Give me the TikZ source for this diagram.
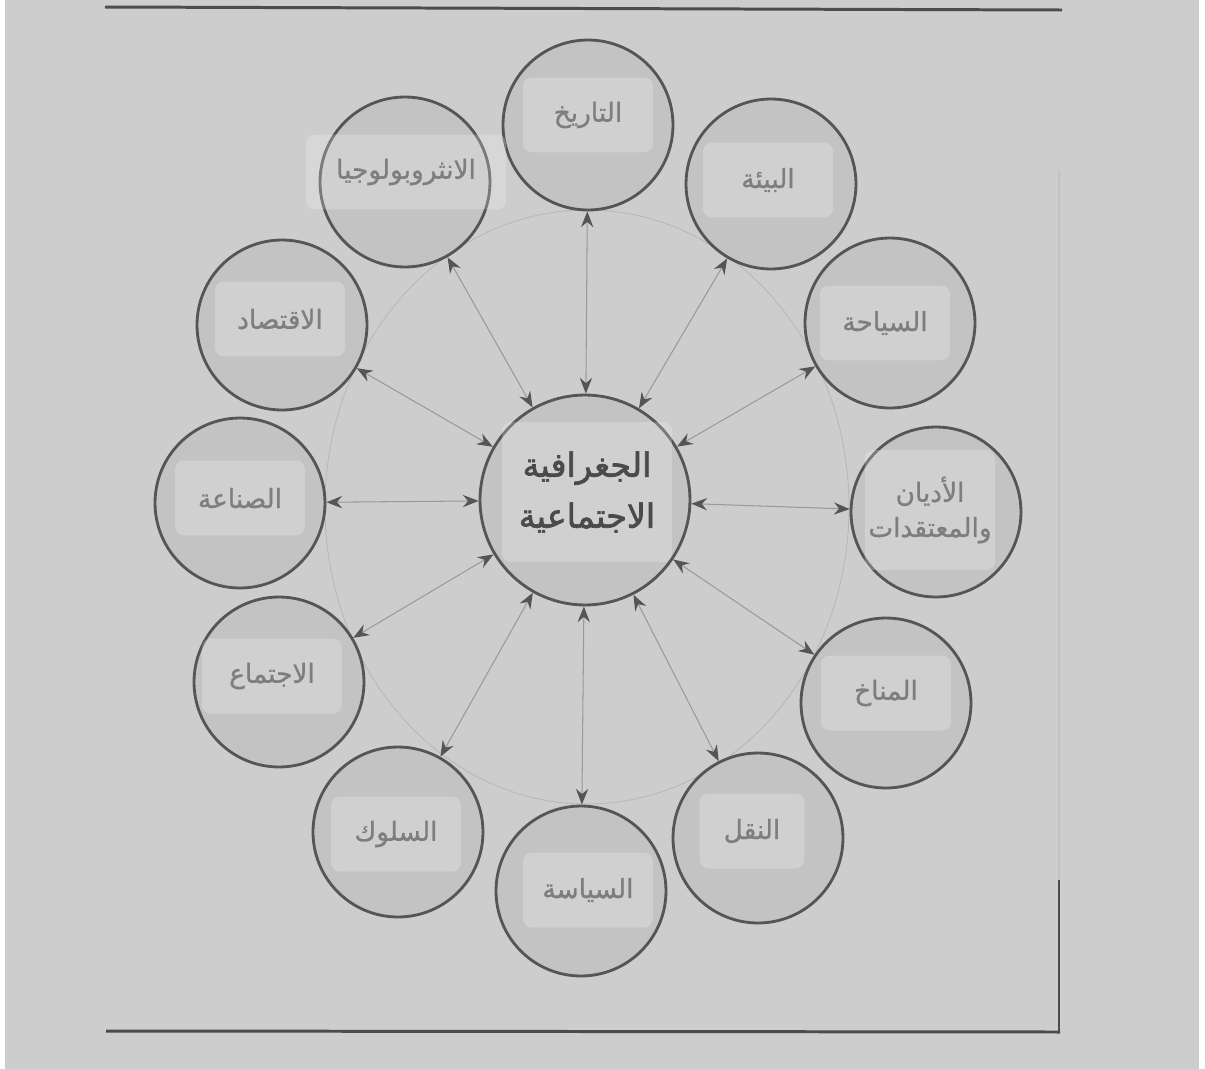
\documentclass[tikz,border=0pt]{standalone}
\usepackage{fontspec}
\usetikzlibrary{arrows.meta}
\TeXXeTstate=1
\newfontfamily\arabicfont[Script=Arabic,FakeBold=1]{DejaVu Sans}
\newfontfamily\arabicbold[Script=Arabic,FakeBold=2]{DejaVu Sans}
\definecolor{paper}{HTML}{CDCDCD}
\definecolor{disc}{HTML}{C3C3C3}
\definecolor{rim}{HTML}{555555}
\definecolor{ink}{HTML}{7E7E7E}
\definecolor{hubink}{HTML}{4A4A4A}
\definecolor{wire}{HTML}{9A9A9A}
\definecolor{rule}{HTML}{4C4C4C}

\tikzset{
  >={Stealth[length=9pt,width=7pt,inset=3pt,color=rim]},
  topic/.style={circle,draw=rim,line width=1.6pt,fill=disc,minimum size=3.4cm,inner sep=0pt},
  hub/.style={topic,minimum size=4.2cm},
  tag/.style={rounded corners=5pt,fill=white,fill opacity=0.22,text opacity=1,text=ink,
    minimum width=2.6cm,minimum height=1.5cm,inner sep=2pt,align=center,
    font=\arabicfont\fontsize{15}{20}\selectfont},
  hubtag/.style={tag,text=hubink,minimum width=3.4cm,minimum height=2.8cm,
    font=\arabicbold\fontsize{19}{29}\selectfont},
  link/.style={<->,draw=wire,line width=0.6pt}
}

\begin{document}
\begin{tikzpicture}[x=0.02cm,y=-0.02cm]
    \useasboundingbox (0,0) rectangle (1205,1069);
    \fill[white] (0,0) rectangle (1205,1069);
    \fill[paper] (5,0) rectangle (1199,1069);
    \draw[rule,line width=1.7pt] (105,7) -- (1062,10);
    \draw[rule,line width=1.7pt] (106,1031) -- (1060,1032);
    \draw[wire!60,line width=0.6pt] (1059,170) -- (1059,880);
    \draw[rule,line width=0.9pt] (1059,880) -- (1059,1033);
    \draw[wire!70,line width=0.5pt] (587,507) ellipse [x radius=262,y radius=297];

    \node[hub] (hub) at (585,500) {};
    \node[topic] (tarikh) at (588,125) {};
    \node[topic] (bia) at (771,184) {};
    \node[topic] (siyaha) at (890,323) {};
    \node[topic] (adyan) at (936,512) {};
    \node[topic] (manakh) at (886,703) {};
    \node[topic] (naql) at (758,838) {};
    \node[topic] (siyasa) at (581,891) {};
    \node[topic] (suluk) at (398,832) {};
    \node[topic] (ijtima) at (279,682) {};
    \node[topic] (sinaa) at (240,503) {};
    \node[topic] (iqtisad) at (282,325) {};
    \node[topic] (anthro) at (405,182) {};

    \foreach \t in {tarikh,bia,siyaha,adyan,manakh,naql,siyasa,suluk,ijtima,sinaa,iqtisad,anthro}
      \draw[link] (hub) -- (\t);

    \node[hubtag] (hubtxt) at (587,492) {\beginR الجغرافية\endR\\\beginR الاجتماعية\endR};
    \node[tag] (tarikhtxt) at (588,115) {\beginR التاريخ\endR};
    \node[tag] (biatxt) at (768,180) {\beginR البيئة\endR};
    \node[tag] (siyahatxt) at (885,323) {\beginR السياحة\endR};
    \node[tag,minimum height=2.4cm] (adyantxt) at (930,510) {\beginR الأديان\endR\\\beginR والمعتقدات\endR};
    \node[tag] (manakhtxt) at (886,693) {\beginR المناخ\endR};
    \node[tag,minimum width=2.1cm] (naqltxt) at (752,831) {\beginR النقل\endR};
    \node[tag] (siyasatxt) at (588,890) {\beginR السياسة\endR};
    \node[tag] (suluktxt) at (396,834) {\beginR السلوك\endR};
    \node[tag,minimum width=2.8cm] (ijtimatxt) at (272,676) {\beginR الاجتماع\endR};
    \node[tag] (sinaatxt) at (240,498) {\beginR الصناعة\endR};
    \node[tag] (iqtisadtxt) at (280,319) {\beginR الاقتصاد\endR};
    \node[tag,minimum width=4cm] (anthrotxt) at (406,172) {\beginR الانثروبولوجيا\endR};
\end{tikzpicture}
\end{document}
